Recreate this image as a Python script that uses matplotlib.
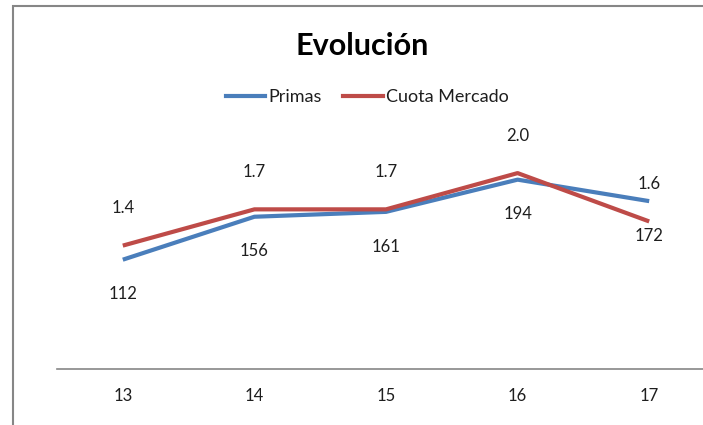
import matplotlib
matplotlib.use("Agg")
import matplotlib.pyplot as plt
from matplotlib.patches import Rectangle
from matplotlib.lines import Line2D

categories = ["13", "14", "15", "16", "17"]
primas = [112, 156, 161, 194, 172]
cuota = [1.4, 1.7, 1.7, 2.0, 1.6]
cuota_labels = ["1.4", "1.7", "1.7", "2.0", "1.6"]

plt.rcParams['font.family'] = ['Lato', 'DejaVu Sans']

W, H = 703, 425
fig = plt.figure(figsize=(W / 100, H / 100), dpi=100)
fig.patch.set_facecolor('white')

# outer chart border
fig.patches.append(Rectangle((13 / W, -0.1), 1.2, 1 - 6 / H + 0.1, transform=fig.transFigure,
                             fill=False, edgecolor='#868686', linewidth=1.5, zorder=0))

left, right = 57 / W, 715 / W
bottom, top = (H - 369) / H, (H - 125) / H
ax = fig.add_axes([left, bottom, right - left, top - bottom])
ax.set_facecolor('none')
x = list(range(len(categories)))

blue = '#4A7EBB'
red = '#BE4B48'
txt = '#1e1e1e'

ax.plot(x, primas, color=blue, linewidth=3, solid_capstyle='butt', zorder=3)
ax.set_xlim(-0.5, len(categories) - 0.5)
ax.set_ylim(0, 250)

ax2 = ax.twinx()
ax2.plot(x, cuota, color=red, linewidth=3, solid_capstyle='butt', zorder=4)
ax2.set_ylim(0.379, 2.398)

for a in (ax, ax2):
    for s in ['top', 'right', 'left']:
        a.spines[s].set_visible(False)
    a.set_yticks([])
ax2.spines['bottom'].set_visible(False)
ax.spines['bottom'].set_color('#868686')
ax.spines['bottom'].set_linewidth(1.2)
ax.set_xticks(x)
ax.set_xticklabels(categories, fontsize=12, color=txt)
ax.tick_params(axis='x', length=0, pad=14)

for xi, v in zip(x, primas):
    ax.annotate(str(v), (xi, v), xytext=(0, -25), textcoords='offset points',
                ha='center', va='center', fontsize=12, color=txt)
for xi, v, lab in zip(x, cuota, cuota_labels):
    ax2.annotate(lab, (xi, v), xytext=(0, 27), textcoords='offset points',
                 ha='center', va='center', fontsize=12, color=txt)

fig.text(362 / W, 1 - 46 / H, "Evolución", ha='center', va='center',
         fontsize=22, fontweight='bold', color='black')

handles = [Line2D([], [], color=blue, linewidth=3), Line2D([], [], color=red, linewidth=3)]
fig.legend(handles, ["Primas", "Cuota Mercado"], loc='center', bbox_to_anchor=(367 / W, 1 - 97 / H),
           ncol=2, frameon=False, fontsize=13, handlelength=2.2, handletextpad=0.15,
           columnspacing=1.2, labelcolor=txt)

fig.savefig("out.png", dpi=100, facecolor='white')
